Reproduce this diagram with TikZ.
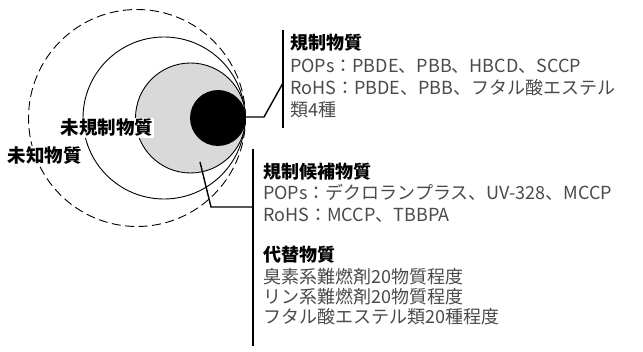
\documentclass[tikz,border=0pt]{standalone}
\usepackage{fontspec}
\setmainfont{Noto Sans CJK JP}
\newfontfamily\jp{Noto Sans CJK JP}
\definecolor{bodygray}{HTML}{4A4A4A}
\definecolor{fillgray}{HTML}{D9D9D9}
\begin{document}
\begin{tikzpicture}[x=1pt,y=-1pt,
  ring/.style={circle,draw=black,line width=0.9pt,inner sep=0pt},
  conn/.style={draw=black,line width=1.4pt},
  head/.style={anchor=base west,inner sep=0pt,font=\jp\fontsize{18}{21}\selectfont\bfseries,text=black},
  body/.style={anchor=base west,inner sep=0pt,font=\jp\fontsize{18}{21}\selectfont,text=bodygray},
  lab/.style={anchor=base,inner sep=1pt,fill=white,font=\jp\fontsize{18.5}{21}\selectfont\bfseries,text=black}]
\useasboundingbox (0,0) rectangle (643,352);
% circles
\node[ring,dash pattern=on 9pt off 4.5pt,minimum size=217pt] (unknown) at (137,118) {};
\node[ring,minimum size=162pt] (unreg) at (164,118) {};
\node[ring,fill=fillgray,minimum size=110pt] (cand) at (190.5,118) {};
\node[ring,fill=black,minimum size=55pt] (reg) at (218,118) {};
% labels
\node[lab] (l1) at (107,135) {未規制物質};
\node[lab] (l2) at (45,163) {未知物質};
% connector 1
\coordinate (c1a) at (245.5,117);
\coordinate (c1b) at (264,117);
\coordinate (c1c) at (283,83);
\coordinate (b1t) at (283,30);
\coordinate (b1b) at (283,128);
\draw[conn] (c1a) -- (c1b) -- (c1c);
\draw[conn] (b1t) -- (b1b);
% connector 2
\coordinate (c2a) at (200,162);
\coordinate (c2b) at (211,207);
\coordinate (c2c) at (253,207);
\coordinate (b2t) at (253,149);
\coordinate (b2b) at (253,346);
\draw[conn] (c2a) -- (c2b) -- (c2c);
\draw[conn] (b2t) -- (b2b);
% block 1
\node[head] (h1) at (290,50) {規制物質};
\node[body] (t11) at (290,73) {POPs：PBDE、PBB、HBCD、SCCP};
\node[body] (t12) at (290,95) {RoHS：PBDE、PBB、フタル酸エステル};
\node[body] (t13) at (290,117) {類4種};
% block 2
\node[head] (h2) at (263,179) {規制候補物質};
\node[body] (t21) at (263,200) {POPs：デクロランプラス、UV-328、MCCP};
\node[body] (t22) at (263,222) {RoHS：MCCP、TBBPA};
\node[head] (h3) at (263,262) {代替物質};
\node[body] (t31) at (263,284) {臭素系難燃剤20物質程度};
\node[body] (t32) at (263,304) {リン系難燃剤20物質程度};
\node[body] (t33) at (263,324) {フタル酸エステル類20種程度};
\end{tikzpicture}
\end{document}
